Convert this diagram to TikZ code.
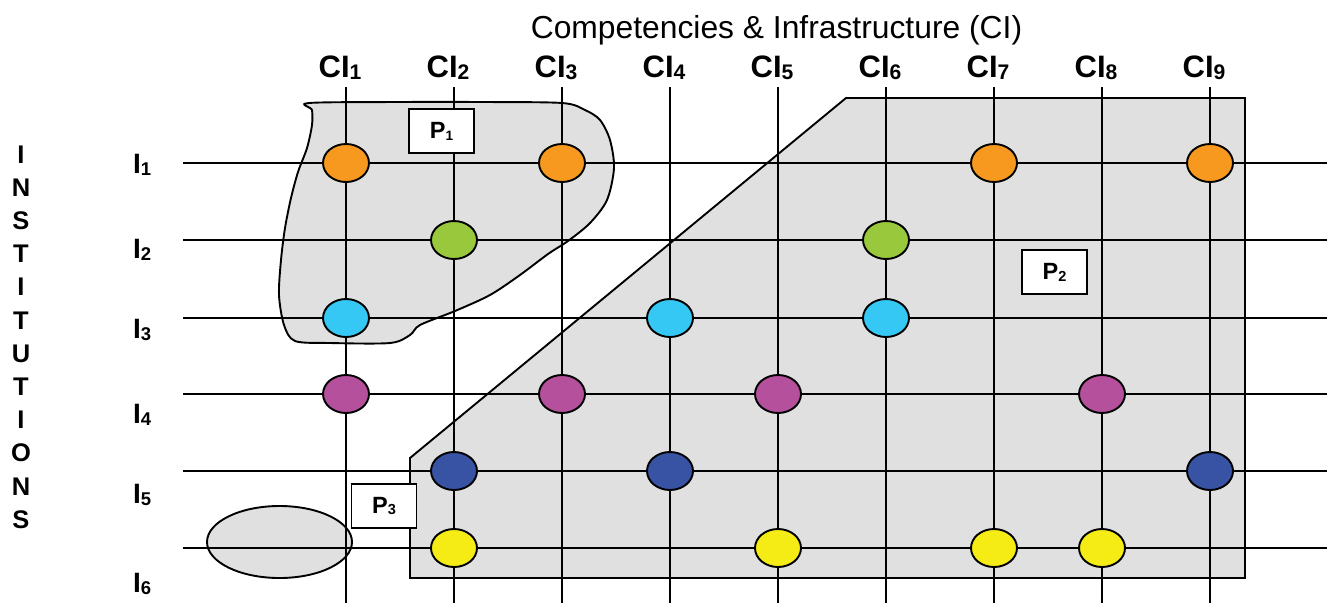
\documentclass[tikz,border=0pt]{standalone}
\usepackage{fontspec}
\setmainfont{Liberation Sans}
\usetikzlibrary{shapes.geometric}
\definecolor{corange}{HTML}{F7991F}
\definecolor{cgreen}{HTML}{99C83C}
\definecolor{ccyan}{HTML}{35C8F4}
\definecolor{cmagenta}{HTML}{B5509D}
\definecolor{cblue}{HTML}{3953A4}
\definecolor{cyellow}{HTML}{F5EB15}
\definecolor{regiongray}{HTML}{E0E0E0}
\newcommand\lowsub[2]{\raisebox{-0.08em}{\scalebox{#1}{#2}}}
\begin{document}
\begin{tikzpicture}[x=1pt,y=-1pt,
  gridline/.style={line width=1.9pt},
  cell/.style={ellipse, draw, line width=1.9pt, minimum width=46pt, minimum height=38pt, inner sep=0pt},
  region/.style={fill=regiongray, draw, line width=1.9pt},
  pbox/.style={draw, fill=white, line width=1.9pt, minimum width=65pt, minimum height=44pt, inner sep=0pt, font=\fontsize{23.5}{28}\selectfont\bfseries},
  cilabel/.style={anchor=base, inner sep=0pt, font=\fontsize{31}{36}\selectfont\bfseries},
  ilabel/.style={anchor=base west, inner sep=0pt, font=\fontsize{28}{33}\selectfont\bfseries},
  instletter/.style={anchor=base, inner sep=0pt, font=\fontsize{25.5}{30}\selectfont\bfseries},
  titlestyle/.style={anchor=base, inner sep=0pt, font=\fontsize{31.8}{36}\selectfont}]
\useasboundingbox (0,0) rectangle (1333,603);

% regions
\draw[region] plot[smooth cycle, tension=0.5] coordinates {
 (309,103) (400,102) (480,102) (562,103) (585,110) (600,120) (610,140)
 (614,168) (607,200) (590,223) (568,241) (548,254) (520,275) (490,295)
 (455,311) (420,325) (410,335) (390,343) (330,343) (295,341) (284,325)
 (279,295) (281,260) (285,228) (291,198) (298,172) (307,148) (312,125) (312,110)};
\draw[region] (846,98) -- (1245,98) -- (1245,578) -- (410,578) -- (410,458) -- cycle;
\node[region, ellipse, minimum width=145pt, minimum height=72pt, inner sep=0pt] (p3region) at (279.5,542) {};

% grid
\foreach \c [count=\i] in {346,454,562,670,778,886,994,1102,1210} {
  \coordinate (colN\i) at (\c,87);
  \coordinate (colS\i) at (\c,603);
  \draw[gridline] (colN\i) -- (colS\i);
}
\foreach \r [count=\j] in {163,240,318,394,471,548} {
  \coordinate (rowW\j) at (183,\r);
  \coordinate (rowE\j) at (1327,\r);
  \draw[gridline] (rowW\j) -- (rowE\j);
}

% cells
\node[cell, fill=corange] (r1c1) at (346,163) {};
\node[cell, fill=corange] (r1c3) at (562,163) {};
\node[cell, fill=corange] (r1c7) at (994,163) {};
\node[cell, fill=corange] (r1c9) at (1210,163) {};
\node[cell, fill=cgreen] (r2c2) at (454,240) {};
\node[cell, fill=cgreen] (r2c6) at (886,240) {};
\node[cell, fill=ccyan] (r3c1) at (346,318) {};
\node[cell, fill=ccyan] (r3c4) at (670,318) {};
\node[cell, fill=ccyan] (r3c6) at (886,318) {};
\node[cell, fill=cmagenta] (r4c1) at (346,394) {};
\node[cell, fill=cmagenta] (r4c3) at (562,394) {};
\node[cell, fill=cmagenta] (r4c5) at (778,394) {};
\node[cell, fill=cmagenta] (r4c8) at (1102,394) {};
\node[cell, fill=cblue] (r5c2) at (454,471) {};
\node[cell, fill=cblue] (r5c4) at (670,471) {};
\node[cell, fill=cblue] (r5c9) at (1210,471) {};
\node[cell, fill=cyellow] (r6c2) at (454,548) {};
\node[cell, fill=cyellow] (r6c5) at (778,548) {};
\node[cell, fill=cyellow] (r6c7) at (994,548) {};
\node[cell, fill=cyellow] (r6c8) at (1102,548) {};

% P boxes
\node[pbox] (p1) at (441.5,131) {P\lowsub{0.58}{1}};
\node[pbox] (p2) at (1054.5,272) {P\lowsub{0.62}{2}};
\node[pbox] (p3) at (384,506) {P\lowsub{0.62}{3}};

% title
\node[titlestyle] (title) at (776.5,38) {Competencies \& Infrastructure (CI)};

% column labels
\foreach \c [count=\i] in {346,454,562,670,778,886,994,1102,1210} {
  \node[cilabel] (ci\i) at (\c-6,77) {CI\lowsub{0.68}{\i}};
}

% row labels
\foreach \b [count=\j] in {173,258,338,423,503,592} {
  \node[ilabel] (i\j) at (133,\b) {I\lowsub{0.66}{\j}};
}

% INSTITUTIONS
\foreach \l [count=\k from 0] in {I,N,S,T,I,T,U,T,I,O,N,S} {
  \node[instletter] (inst\k) at (21,163+33.2*\k) {\l};
}
\end{tikzpicture}
\end{document}
